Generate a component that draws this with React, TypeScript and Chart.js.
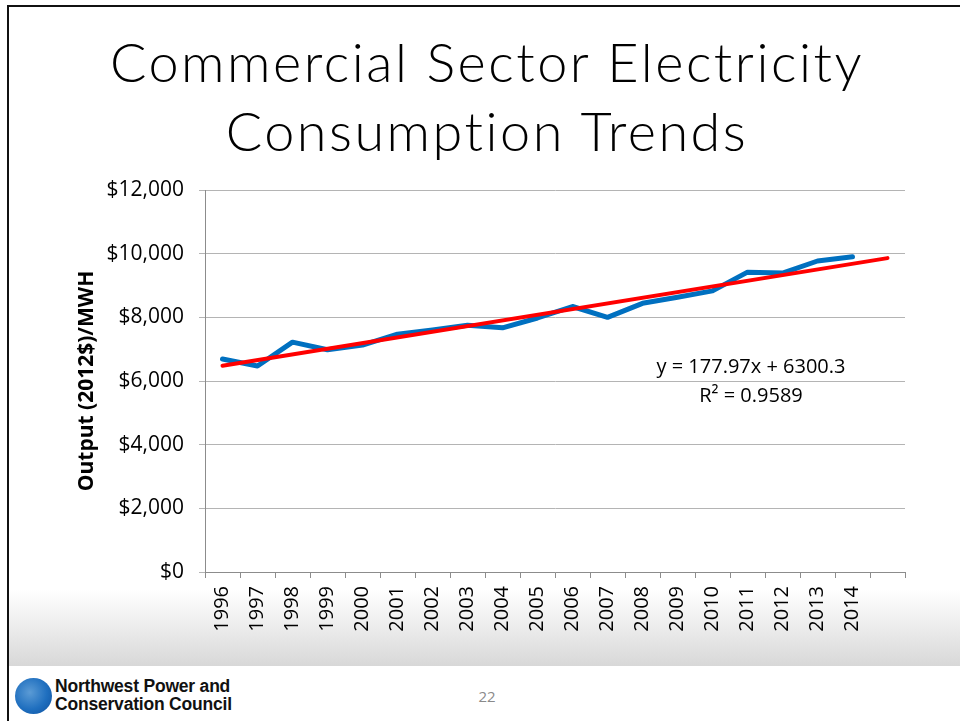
import React, { useEffect, useRef } from "react";
import { Chart, registerables } from "chart.js";

Chart.register(...registerables);

// ---- data ----
const YEARS: string[] = [
  "1996", "1997", "1998", "1999", "2000", "2001", "2002", "2003", "2004", "2005",
  "2006", "2007", "2008", "2009", "2010", "2011", "2012", "2013", "2014", "",
];
const OUTPUT_PER_MWH: number[] = [
  6690, 6470, 7220, 6980, 7130, 7470, 7600, 7750, 7670, 7980,
  8340, 8000, 8440, 8630, 8830, 9420, 9390, 9770, 9900,
];
// linear trendline end points (first and last category)
const TREND_START = 6478;
const TREND_END = 9860;
const Y_MIN = 0;
const Y_MAX = 12000;
const Y_STEP = 2000;

const TITLE_LINES = ["Commercial Sector Electricity", "Consumption Trends"];
const Y_TITLE = "Output (2012$)/MWH";
const EQUATION = "y = 177.97x + 6300.3";
const R_SQUARED = "R² = 0.9589";
const PAGE_NUMBER = "22";
const ORG_LINES = ["Northwest Power and", "Conservation Council"];

const FAMILY = "'Open Sans', 'Noto Sans', sans-serif";

export default function App() {
  const canvasRef = useRef<HTMLCanvasElement | null>(null);

  useEffect(() => {
    const canvas = canvasRef.current;
    if (!canvas) return;
    const trend = YEARS.map((_, i) =>
      i === 0 ? TREND_START : i === YEARS.length - 1 ? TREND_END : null
    );
    const chart = new Chart(canvas, {
      type: "line",
      data: {
        labels: YEARS,
        datasets: [
          {
            label: "Linear trend",
            data: trend,
            borderColor: "#ff0000",
            borderWidth: 4,
            pointRadius: 0,
            spanGaps: true,
            tension: 0,
            borderCapStyle: "round",
          },
          {
            label: "Output",
            data: OUTPUT_PER_MWH,
            borderColor: "#0070c0",
            borderWidth: 5,
            pointRadius: 0,
            tension: 0,
            borderCapStyle: "round",
            borderJoinStyle: "round",
          },
        ],
      },
      options: {
        animation: false,
        responsive: false,
        devicePixelRatio: window.devicePixelRatio || 1,
        layout: { padding: { top: 20, right: 55, left: 0, bottom: 0 } },
        plugins: {
          legend: { display: false },
          tooltip: { enabled: false },
        },
        scales: {
          x: {
            type: "category",
            offset: true,
            grid: {
              offset: true,
              drawOnChartArea: false,
              drawTicks: true,
              tickLength: 6,
              color: "#8c8c8c",
            },
            border: { display: true, color: "#8c8c8c", width: 1 },
            ticks: {
              autoSkip: false,
              maxRotation: 90,
              minRotation: 90,
              padding: 8,
              color: "#000",
              font: { family: FAMILY, size: 20 },
            },
            afterFit: (s: any) => {
              s.height = 78;
            },
          },
          y: {
            min: Y_MIN,
            max: Y_MAX,
            ticks: {
              stepSize: Y_STEP,
              padding: 15,
              color: "#000",
              font: { family: FAMILY, size: 21 },
              callback: (v: any) => "$" + Number(v).toLocaleString("en-US"),
            },
            grid: { color: "#b4b4b4", tickLength: 6, drawTicks: true },
            border: { color: "#8c8c8c" },
            title: {
              display: true,
              text: Y_TITLE,
              color: "#000",
              font: { family: FAMILY, size: 21, weight: "bold" },
              padding: { top: 14, bottom: 0 },
            },
            afterFit: (s: any) => {
              s.width = 145;
              s.paddingTop = 0;
              s.paddingBottom = 0;
            },
          },
        },
      } as any,
    });
    return () => chart.destroy();
  }, []);

  return (
    <div
      style={{
        position: "fixed",
        left: 0,
        top: 0,
        width: 960,
        height: 721,
        overflow: "hidden",
        background: "#fff",
        fontFamily: FAMILY,
      }}
    >
      {/* slide border (left and top visible) */}
      <div
        style={{
          position: "absolute",
          left: 7,
          top: 5,
          width: 1100,
          height: 1000,
          border: "2px solid #111",
          boxSizing: "border-box",
        }}
      />
      {/* bottom gradient band */}
      <div
        style={{
          position: "absolute",
          left: 9,
          top: 590,
          width: 951,
          height: 76,
          background: "linear-gradient(to bottom, #ffffff 0%, #d8d8d8 100%)",
        }}
      />
      {/* title */}
      <div
        style={{
          position: "absolute",
          left: 0,
          width: 974,
          top: 27,
          textAlign: "center",
          fontFamily: "Lato, 'Open Sans', sans-serif",
          fontWeight: 300,
          fontSize: 54,
          letterSpacing: 2.5,
          fontVariantLigatures: "none",
          lineHeight: "69px",
          color: "#000",
          whiteSpace: "nowrap",
        }}
      >
        {TITLE_LINES.map((t) => (
          <div key={t}>{t}</div>
        ))}
      </div>
      {/* chart */}
      <canvas
        ref={canvasRef}
        width={900}
        height={480}
        style={{ position: "absolute", left: 60, top: 170, width: 900, height: 480 }}
      />
      {/* trendline equation */}
      <div
        style={{
          position: "absolute",
          left: 601,
          width: 300,
          top: 351,
          textAlign: "center",
          fontSize: 20,
          lineHeight: "29px",
          color: "#000",
        }}
      >
        <div>{EQUATION}</div>
        <div>{R_SQUARED}</div>
      </div>
      {/* footer logo */}
      <div
        style={{
          position: "absolute",
          left: 15,
          top: 678,
          width: 37,
          height: 36,
          borderRadius: "50%",
          background: "radial-gradient(circle at 40% 40%, #5b9bd5 0%, #1f6fbf 55%, #0d4f9c 100%)",
        }}
      />
      <div
        style={{
          position: "absolute",
          left: 55,
          top: 677,
          fontFamily: "'Liberation Sans', Arial, sans-serif",
          fontWeight: 900,
          fontSize: 17.5,
          letterSpacing: -0.2,
          lineHeight: "18px",
          color: "#111",
        }}
      >
        {ORG_LINES.map((t) => (
          <div key={t}>{t}</div>
        ))}
      </div>
      {/* page number */}
      <div
        style={{
          position: "absolute",
          left: 437,
          width: 100,
          top: 686,
          textAlign: "center",
          fontSize: 15,
          color: "#8a8a8a",
        }}
      >
        {PAGE_NUMBER}
      </div>
    </div>
  );
}
